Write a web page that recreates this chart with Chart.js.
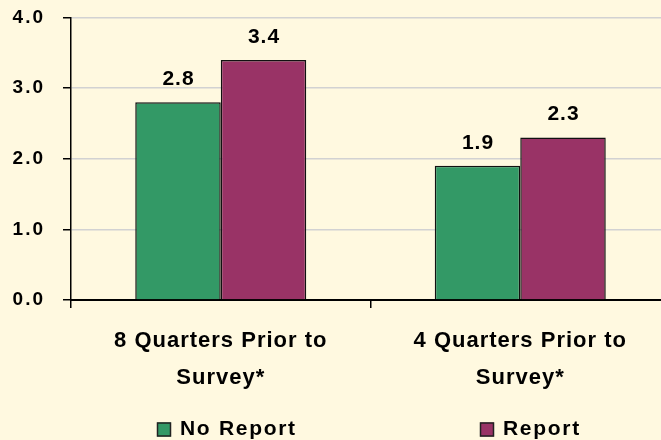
<!DOCTYPE html>
<html><head><meta charset="utf-8">
<script src="https://cdn.jsdelivr.net/npm/chart.js@4/dist/chart.umd.min.js"></script>
<style>
html,body{margin:0;padding:0;background:#FFF9E0;overflow:hidden;width:661px;height:440px}
#wrap{position:relative;width:700px;height:440px}
</style></head><body>
<div id="wrap"><canvas id="c" width="700" height="440"></canvas></div>
<script>
const categories = [['8 Quarters Prior to','Survey*'], ['4 Quarters Prior to','Survey*']];
const seriesNames = ['No Report', 'Report'];
const noReport = [2.8, 1.9];
const report = [3.4, 2.3];
const yTicks = [0.0, 1.0, 2.0, 3.0, 4.0];

const FONT = '"Liberation Sans", Arial, sans-serif';
const colors = ['#339966', '#993366'];

const valueLabels = {
  id: 'valueLabels',
  afterDatasetsDraw(chart) {
    const ctx = chart.ctx;
    ctx.save();
    ctx.letterSpacing = '1px';
    ctx.font = 'bold 21px ' + FONT;
    ctx.fillStyle = '#000';
    ctx.textAlign = 'center';
    ctx.textBaseline = 'middle';
    chart.data.datasets.forEach((ds, i) => {
      chart.getDatasetMeta(i).data.forEach((bar, j) => {
        ctx.fillText(ds.data[j].toFixed(1), bar.x + 0.5, bar.y - 23);
      });
    });
    ctx.restore();
  }
};

const bottomLegend = {
  id: 'bottomLegend',
  afterDraw(chart) {
    const ctx = chart.ctx;
    const xs = chart.scales.x;
    ctx.save();
    ctx.letterSpacing = '1.7px';
    ctx.font = 'bold 21px ' + FONT;
    ctx.textBaseline = 'middle';
    ctx.textAlign = 'left';
    const y = 429.5;
    chart.data.datasets.forEach((ds, i) => {
      const tw = ctx.measureText(ds.label).width;
      const total = 14 + 9 + tw;
      const cx = xs.getPixelForValue(i) + 6 + i * 4;
      const x0 = Math.round(cx - total / 2);
      ctx.fillStyle = ds.backgroundColor;
      ctx.fillRect(x0, y - 7, 14, 14);
      ctx.strokeStyle = '#222';
      ctx.lineWidth = 1.5;
      ctx.strokeRect(x0 + 0.5, y - 6.5, 13, 13);
      ctx.fillStyle = '#000';
      ctx.fillText(ds.label, x0 + 23, y);
    });
    ctx.restore();
  }
};

const spacedLabels = {
  id: 'spacedLabels',
  afterUpdate(chart) {
    const spacing = { x: '1px', y: '2px' };
    Object.keys(spacing).forEach(k => {
      const sc = chart.scales[k];
      const proto = Object.getPrototypeOf(sc);
      sc.drawLabels = function (ca) {
        const ctx = this.ctx;
        ctx.save();
        ctx.letterSpacing = spacing[k];
        proto.drawLabels.call(this, ca);
        ctx.restore();
      };
    });
  }
};

new Chart(document.getElementById('c'), {
  type: 'bar',
  data: {
    labels: categories,
    datasets: [
      { label: seriesNames[0], data: noReport, backgroundColor: colors[0], borderColor: '#111', borderWidth: 1.5 },
      { label: seriesNames[1], data: report, backgroundColor: colors[1], borderColor: '#111', borderWidth: 1.5 }
    ]
  },
  options: {
    responsive: false,
    animation: false,
    devicePixelRatio: 1,
    layout: { padding: { top: 17.5, right: 30, left: 0, bottom: 0 } },
    datasets: { bar: { categoryPercentage: 0.571, barPercentage: 1.0 } },
    plugins: { legend: { display: false }, tooltip: { enabled: false } },
    scales: {
      x: {
        grid: { drawOnChartArea: false, drawTicks: true, tickLength: 8, tickColor: '#000', lineWidth: 1.5, offset: true },
        border: { display: true, color: '#000', width: 2 },
        ticks: { color: '#000', font: { family: FONT, size: 22, weight: 'bold', lineHeight: 1.68 }, padding: 14.5, maxRotation: 0, autoSkip: false },
        afterFit(s) { s.height = 140; s.paddingLeft = 0; s.paddingRight = 0; }
      },
      y: {
        min: yTicks[0], max: yTicks[yTicks.length - 1],
        afterBuildTicks(s) { s.ticks = yTicks.map(v => ({ value: v })); },
        grid: { color: '#D2D2D2', lineWidth: 1.5, drawTicks: true, tickLength: 8, tickColor: '#000', tickWidth: 1.5 },
        border: { display: true, color: '#000', width: 1.5 },
        ticks: { color: '#000', font: { family: FONT, size: 19, weight: 'bold' }, padding: 18, callback: v => Number(v).toFixed(1) },
        afterFit(s) { s.width = 71; s.paddingTop = 0; s.paddingBottom = 0; }
      }
    }
  },
  plugins: [spacedLabels, valueLabels, bottomLegend]
});
</script>
</body></html>
